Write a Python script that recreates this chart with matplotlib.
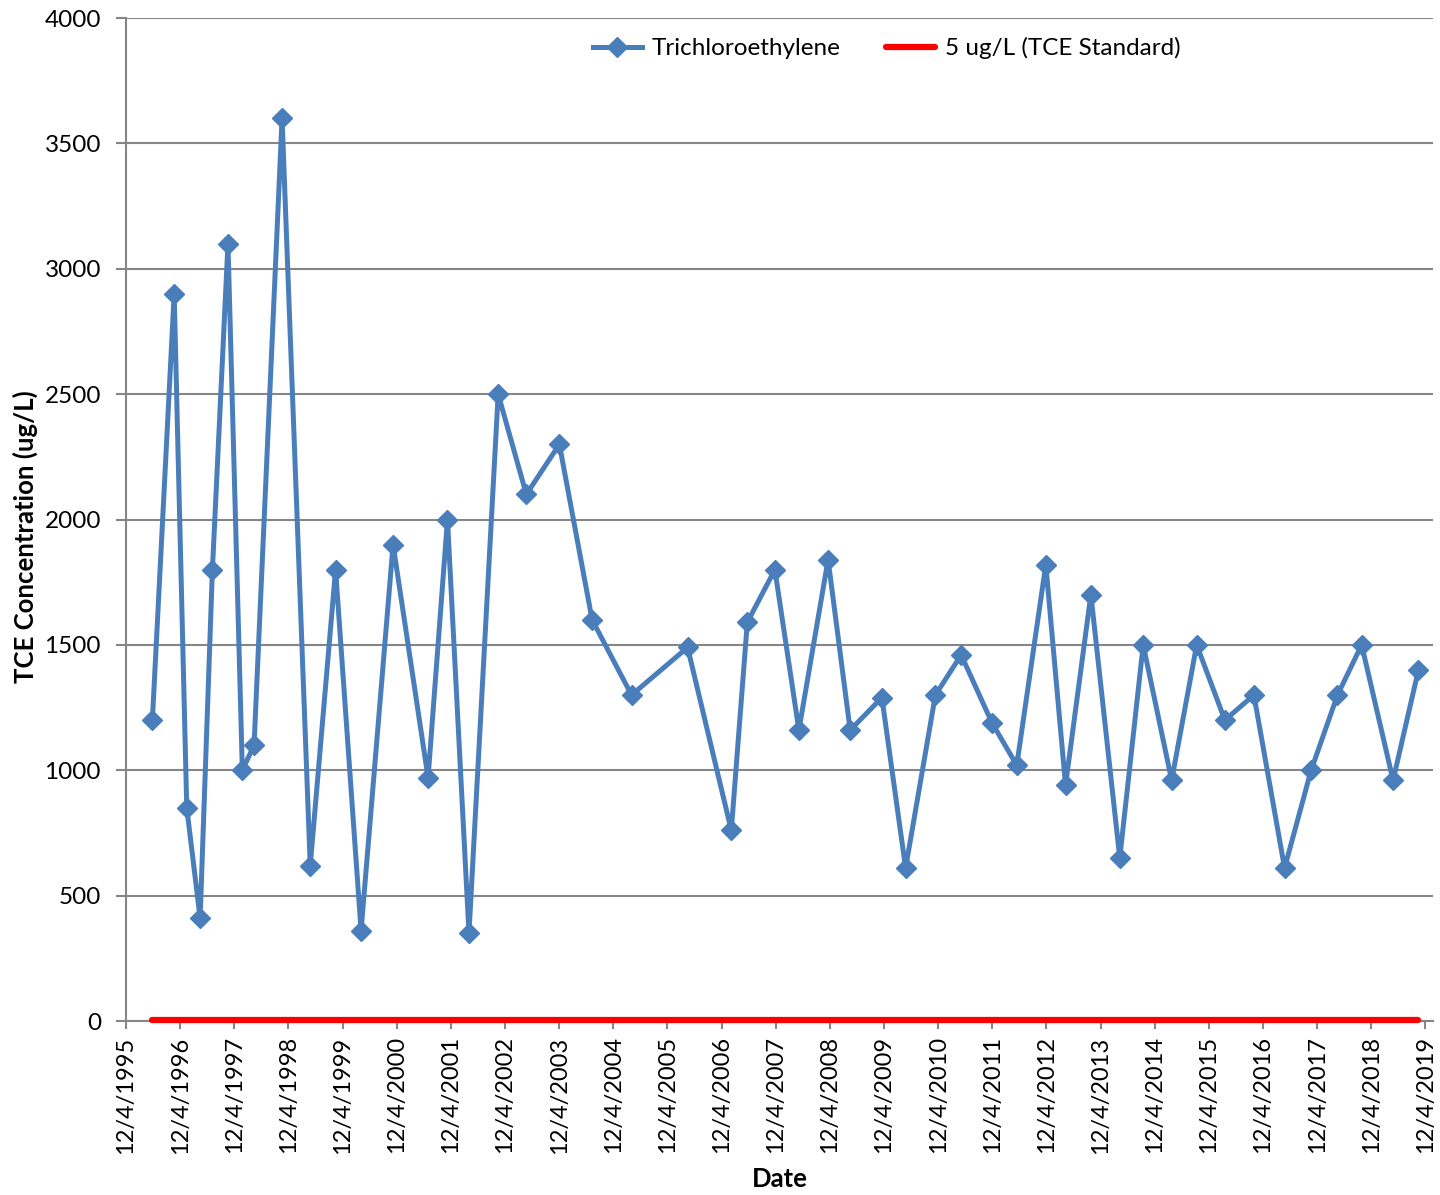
"""TCE concentration over time vs. the 5 ug/L standard."""
from datetime import date, timedelta

import matplotlib
matplotlib.use("Agg")
import matplotlib.pyplot as plt
import matplotlib.dates as mdates

# ── Data ───────────────────────────────────────────────────────────────
SAMPLE_DATES = [
    "1996-05-30", "1996-10-24", "1997-01-17", "1997-04-17", "1997-07-09",
    "1997-10-22", "1998-01-27", "1998-04-16", "1998-10-22", "1999-04-30",
    "1999-10-18", "2000-04-07", "2000-11-09", "2001-07-03", "2001-11-11",
    "2002-04-05", "2002-10-19", "2003-04-27", "2003-12-06", "2004-07-14",
    "2005-04-06", "2006-04-19", "2007-02-08", "2007-05-27", "2007-11-29",
    "2008-05-09", "2008-11-22", "2009-04-20", "2009-11-20", "2010-04-29",
    "2010-11-16", "2011-05-09", "2011-12-02", "2012-05-18", "2012-11-30",
    "2013-04-12", "2013-09-30", "2014-04-13", "2014-09-18", "2015-03-29",
    "2015-09-14", "2016-03-22", "2016-10-04", "2017-04-29", "2017-10-25",
    "2018-04-21", "2018-10-01", "2019-05-01", "2019-10-19",
]
TCE = [
    1200, 2900, 850, 410, 1800,
    3100, 1000, 1100, 3600, 620,
    1800, 360, 1900, 970, 2000,
    350, 2500, 2100, 2300, 1600,
    1300, 1490, 760, 1590, 1800,
    1160, 1840, 1160, 1290, 610,
    1300, 1460, 1190, 1020, 1820,
    940, 1700, 650, 1500, 960,
    1500, 1200, 1300, 610, 1000,
    1300, 1500, 960, 1400,
]
STANDARD = 5  # ug/L
TICK_YEARS = list(range(1995, 2020))
Y_TICKS = [0, 500, 1000, 1500, 2000, 2500, 3000, 3500, 4000]

BLUE = "#4A7EBB"
RED = "#FF0000"
GRID = "#868686"

plt.rcParams["font.family"] = ["Lato", "DejaVu Sans"]

dates = [date.fromisoformat(d) for d in SAMPLE_DATES]
ticks = [date(y, 12, 4) for y in TICK_YEARS]

fig = plt.figure(figsize=(14.4, 11.95), dpi=100)
ax = fig.add_axes([0.0875, 0.1456, 0.9076, 0.8393])

ax.plot(dates, TCE, color=BLUE, linewidth=3.6, marker="D", markersize=10.5,
        markeredgecolor=BLUE, markerfacecolor=BLUE,
        label="Trichloroethylene", zorder=3)
ax.plot([dates[0], dates[-1]], [STANDARD, STANDARD], color=RED,
        linewidth=4.5, solid_capstyle="round",
        label="5 ug/L (TCE Standard)", zorder=4, clip_on=False)

ax.set_xlim(date(1995, 12, 4), date(2019, 12, 4) + timedelta(days=52))
ax.set_ylim(0, 4000)
ax.set_yticks(Y_TICKS)
ax.set_xticks(ticks)
ax.xaxis.set_major_formatter(
    matplotlib.ticker.FuncFormatter(
        lambda v, _: (lambda d: f"{d.month}/{d.day}/{d.year}")(mdates.num2date(v))
    )
)

ax.grid(axis="y", color=GRID, linewidth=1.5)
ax.set_axisbelow(True)
for side in ("top", "right"):
    ax.spines[side].set_visible(False)
for side in ("left", "bottom"):
    ax.spines[side].set_color(GRID)
    ax.spines[side].set_linewidth(1.5)

ax.tick_params(axis="y", direction="out", length=7, width=1.5, color=GRID,
               labelsize=17.5, pad=11)
ax.tick_params(axis="x", direction="out", length=6, width=1.5, color=GRID,
               labelsize=17, pad=5, labelrotation=90)

fig.text(25 / 1440, 1 - 537 / 1195, "TCE Concentration (ug/L)", rotation=90,
         ha="center", va="center", fontsize=18.5, fontweight="bold")
fig.text(780 / 1440, 1 - 1179 / 1195, "Date", ha="center", va="center",
         fontsize=18.5, fontweight="bold")

ax.legend(loc="center", bbox_to_anchor=(0.582, 0.970), ncol=2, frameon=False,
          fontsize=17.5, handlelength=2.0, handletextpad=0.4, columnspacing=1.9,
          numpoints=1)

fig.savefig("out.png", dpi=100)
